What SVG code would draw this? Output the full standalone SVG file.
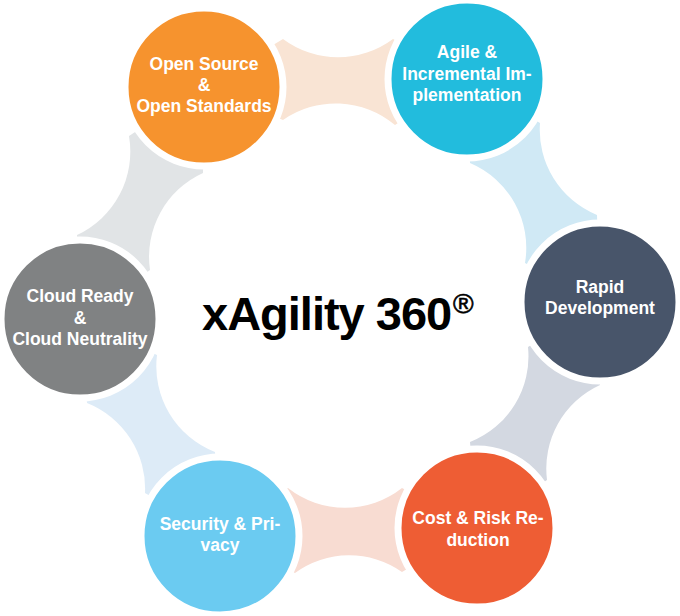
<svg xmlns="http://www.w3.org/2000/svg" width="680" height="616" viewBox="0 0 680 616">
<style>
.node circle{stroke:#fff;stroke-width:7}
.lbl{font-family:"Liberation Sans",Arial,sans-serif;font-weight:bold;font-size:17.5px;fill:#fff;text-anchor:middle}
.title{font-family:"Liberation Sans",Arial,sans-serif;font-weight:bold;fill:#000}
</style>
<rect width="680" height="616" fill="#fff"/>
<g id="connectors">
<path fill="#F9E4D4" d="M283,39 A92,92 0 0 0 393,39 L467,79 L395,125 A92,92 0 0 0 283,120 L204,87 Z"/>
<path fill="#D0E9F5" d="M540,123 A92,92 0 0 0 597,215 L600,302 L525,263 A92,92 0 0 0 470,163 L467,79 Z"/>
<path fill="#D3D8E1" d="M600,385 A92,92 0 0 0 547,480 L477,528 L470,442 A92,92 0 0 0 528,347 L600,302 Z"/>
<path fill="#F8DCD2" d="M402,572 A92,92 0 0 0 295,573 L220,536 L288,488 A92,92 0 0 0 402,488 L477,528 Z"/>
<path fill="#DDEBF7" d="M145,493 A92,92 0 0 0 87,403 L80,319 L157,355 A92,92 0 0 0 215,452 L220,536 Z"/>
<path fill="#E1E4E6" d="M77,235 A92,92 0 0 0 129,136 L204,87 L203,173 A92,92 0 0 0 150,270 L80,319 Z"/>
</g>
<g id="open-source" class="node">
<circle cx="204" cy="87" r="79" fill="#F6932E"/>
<text class="lbl" x="204" y="70">Open Source</text>
<text class="lbl" x="204" y="91">&amp;</text>
<text class="lbl" x="204" y="112">Open Standards</text>
</g>
<g id="agile" class="node">
<circle cx="467" cy="79" r="79" fill="#22BCDD"/>
<text class="lbl" x="467" y="58">Agile &amp;</text>
<text class="lbl" x="467" y="80">Incremental Im-</text>
<text class="lbl" x="467" y="101">plementation</text>
</g>
<g id="rapid" class="node">
<circle cx="600" cy="302" r="79" fill="#48556A"/>
<text class="lbl" x="600" y="293">Rapid</text>
<text class="lbl" x="600" y="314">Development</text>
</g>
<g id="cost" class="node">
<circle cx="477" cy="528" r="79" fill="#EE5D34"/>
<text class="lbl" x="478" y="524">Cost &amp; Risk Re-</text>
<text class="lbl" x="478" y="546">duction</text>
</g>
<g id="security" class="node">
<circle cx="220" cy="536" r="79" fill="#6BCBF1"/>
<text class="lbl" x="220" y="530">Security &amp; Pri-</text>
<text class="lbl" x="220" y="551">vacy</text>
</g>
<g id="cloud" class="node">
<circle cx="80" cy="319" r="79" fill="#808283"/>
<text class="lbl" x="80" y="302">Cloud Ready</text>
<text class="lbl" x="80" y="323.5">&amp;</text>
<text class="lbl" x="80" y="345">Cloud Neutrality</text>
</g>
<g id="title">
<text class="title" x="202" y="330" font-size="47" letter-spacing="-1">xAgility 360</text>
<text x="453" y="313" font-family="'Liberation Sans',Arial,sans-serif" font-size="28" fill="#000" stroke="#000" stroke-width="0.6">®</text>
</g>
</svg>
